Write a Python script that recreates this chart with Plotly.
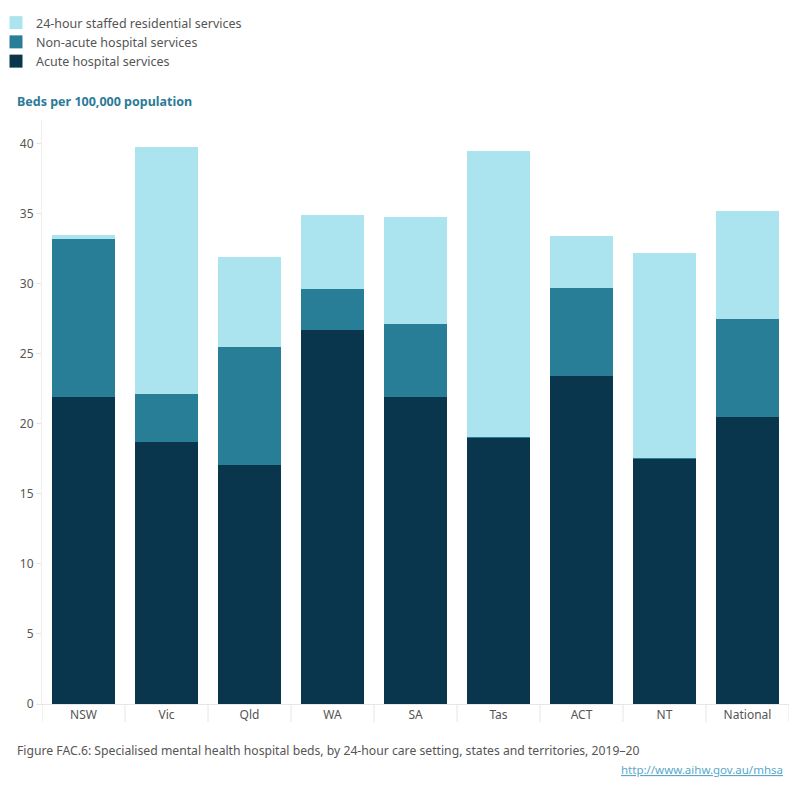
import plotly.graph_objects as go

categories = ["NSW", "Vic", "Qld", "WA", "SA", "Tas", "ACT", "NT", "National"]
acute = [21.9, 18.7, 17.1, 26.7, 21.9, 19.0, 23.4, 17.5, 20.5]
non_acute = [11.3, 3.4, 8.4, 2.9, 5.2, 0.1, 6.3, 0.1, 7.0]
residential = [0.3, 17.7, 6.4, 5.3, 7.7, 20.4, 3.7, 14.6, 7.7]
y_ticks = [0, 5, 10, 15, 20, 25, 30, 35, 40]

series = [
    ("Acute hospital services", acute, "#0A364D"),
    ("Non-acute hospital services", non_acute, "#287E97"),
    ("24-hour staffed residential services", residential, "#ABE3EF"),
]

FONT = "Noto Sans"
GREY = "#555555"

# plot area in pixels: x 42..789, y 120..704
PL, PR, PT, PB = 42, 789, 120, 704
def px(x):
    return (x - PL) / (PR - PL)
def py(y):
    return (PB - y) / (PB - PT)

fig = go.Figure()
for name, vals, col in series:
    fig.add_trace(go.Bar(x=categories, y=vals, name=name, showlegend=False,
                         marker=dict(color=col, line=dict(width=0))))
# legend proxies with larger square swatches
for name, vals, col in series:
    fig.add_trace(go.Scatter(x=[None], y=[None], mode="markers", name=name,
                             marker=dict(symbol="square", size=13, color=col)))

# category dividers below x axis
for i in range(len(categories) + 1):
    fig.add_shape(type="line", xref="x", yref="paper", x0=i - 0.5, x1=i - 0.5,
                  y0=0, y1=py(722), line=dict(color="#E6E6E6", width=1))

fig.update_layout(
    barmode="stack",
    bargap=0.25,
    width=800, height=800,
    margin=dict(l=PL, r=800 - PR, t=PT, b=800 - PB, autoexpand=False),
    paper_bgcolor="white", plot_bgcolor="white",
    font=dict(family=FONT, size=12, color=GREY),
    showlegend=True,
    legend=dict(x=px(-4), y=py(8), xref="paper", yref="paper",
                xanchor="left", yanchor="top", traceorder="reversed",
                font=dict(size=12.5, color=GREY), itemwidth=30,
                tracegroupgap=0, bgcolor="rgba(0,0,0,0)"),
    xaxis=dict(showgrid=False, showline=True, linecolor="#E6E6E6", linewidth=1,
               ticks="", tickfont=dict(size=12, color=GREY), range=[-0.5, 8.5]),
    yaxis=dict(range=[0, 41.7], tickvals=y_ticks, showgrid=False, showline=True,
               linecolor="#EEEEEE", linewidth=1, ticks="outside", ticklen=5,
               tickcolor="#E6E6E6", tickfont=dict(size=12, color=GREY), zeroline=False),
    annotations=[
        dict(text="<b>Beds per 100,000 population</b>", xref="paper", yref="paper",
             x=px(15), y=py(101), xanchor="left", yanchor="middle", showarrow=False,
             font=dict(size=12.5, color="#2B7A98")),
        dict(text="Figure FAC.6: Specialised mental health hospital beds, by 24-hour care setting, states and territories, 2019–20",
             xref="paper", yref="paper", x=px(15), y=py(750), xanchor="left", yanchor="middle",
             showarrow=False, font=dict(size=12.2, color=GREY)),
        dict(text="<u>http://www.aihw.gov.au/mhsa</u>", xref="paper", yref="paper",
             x=px(785), y=py(770), xanchor="right", yanchor="middle", showarrow=False,
             font=dict(size=11.5, color="#5AA8C8")),
    ],
)

fig.write_html("out.html")
